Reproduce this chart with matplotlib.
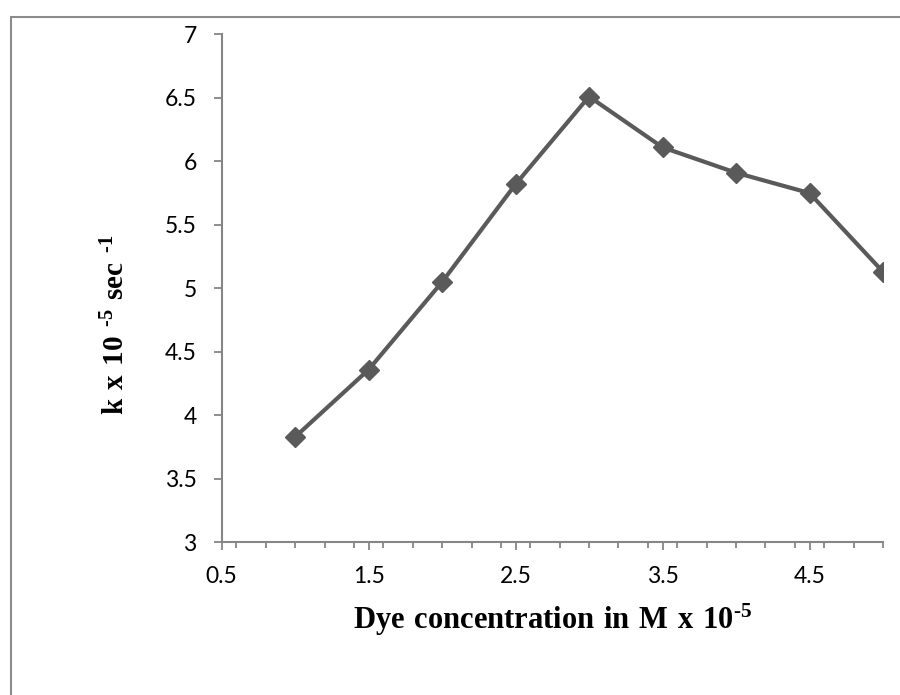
import matplotlib
matplotlib.use("Agg")
import matplotlib.pyplot as plt
from matplotlib.patches import Rectangle
from matplotlib.ticker import MultipleLocator, FixedLocator, FuncFormatter

# dye concentration (M x 10^-5) and rate constant (k x 10^-5 sec^-1)
conc = [1.0, 1.5, 2.0, 2.5, 3.0, 3.5, 4.0, 4.5, 5.0]
k_vals = [3.83, 4.36, 5.05, 5.82, 6.51, 6.11, 5.91, 5.75, 5.13]

x_ticks = [0.5, 1.5, 2.5, 3.5, 4.5]
x_labels = ["0.5", "1.5", "2.5", "3.5", "4.5"]

plt.rcParams["mathtext.fontset"] = "custom"
plt.rcParams["mathtext.rm"] = "Liberation Serif"
plt.rcParams["mathtext.bf"] = "Liberation Serif:bold"

axis_col = "#868686"
line_col = "#5a5a5a"
hy = "\u2010"  # plain hyphen, mathtext would turn "-" into a long minus

fig = plt.figure(figsize=(9, 6.95), dpi=100)
ax = fig.add_axes([0.2463, 0.2197, 0.7348, 0.7309])

ax.plot(conc, k_vals, color=line_col, lw=3.0, marker="D", markersize=10.5,
        markerfacecolor=line_col, markeredgecolor=line_col)

ax.set_xlim(0.5, 5.0)
ax.set_ylim(3, 7)
ax.xaxis.set_major_locator(FixedLocator(x_ticks))
ax.set_xticklabels(x_labels)
ax.xaxis.set_minor_locator(MultipleLocator(0.2))
ax.yaxis.set_major_locator(MultipleLocator(0.5))
ax.yaxis.set_major_formatter(FuncFormatter(lambda v, p: "%g" % v))

for s in ["top", "right"]:
    ax.spines[s].set_visible(False)
for s in ["left", "bottom"]:
    ax.spines[s].set_color(axis_col)
    ax.spines[s].set_linewidth(1.5)

ax.tick_params(axis="both", which="major", direction="out", length=6,
               width=1.3, color=axis_col, labelsize=16.5)
ax.tick_params(axis="x", which="minor", direction="out", length=4,
               width=1.3, color=axis_col)
ax.tick_params(axis="y", pad=12)
ax.tick_params(axis="x", pad=11)
for lab in ax.get_xticklabels() + ax.get_yticklabels():
    lab.set_fontfamily("Lato")
    lab.set_color("#000000")

ax.set_xlabel(r"$\mathbf{Dye\ concentration\ in\ M\ x\ 10^{%s5}}$" % hy,
              fontsize=22)
ax.xaxis.set_label_coords(0.5, -0.118)
ax.set_ylabel(r"$\mathbf{k\ x\ 10\ ^{%s5}\ sec\ ^{%s1}}$" % (hy, hy),
              fontsize=21)
ax.yaxis.set_label_coords(-0.138, 0.428)

# chart area border (cut off at the right and bottom like the source)
fig.add_artist(Rectangle((11 / 900, -0.1), 2, (695 - 16.7) / 695 + 0.1,
                         transform=fig.transFigure, fill=False,
                         ec="#8c8c8c", lw=1.5))

fig.savefig("out.png", dpi=100, facecolor="white")
